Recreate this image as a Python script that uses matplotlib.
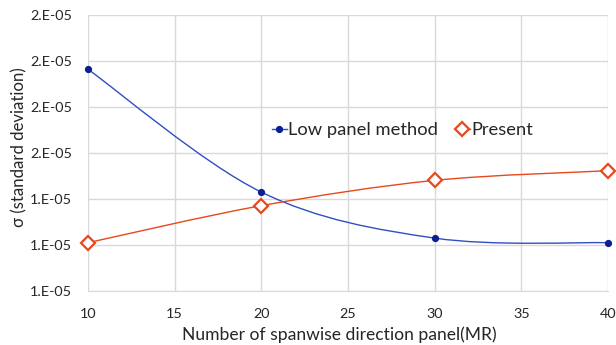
import matplotlib
matplotlib.use("Agg")
import matplotlib.pyplot as plt
from matplotlib.path import Path
from matplotlib.patches import PathPatch
from matplotlib.ticker import FuncFormatter, MultipleLocator
from matplotlib.font_manager import FontProperties
import numpy as np

plt.rcParams['font.family'] = ['Lato', 'DejaVu Sans']

panels = [10, 20, 30, 40]
low_panel = [1.964e-5, 1.430e-5, 1.230e-5, 1.210e-5]
present = [1.210e-5, 1.371e-5, 1.481e-5, 1.523e-5]
series_names = ["Low panel method", "Present"]
x_title = "Number of spanwise direction panel(MR)"
y_title = "σ (standard deviation)"

fig = plt.figure(figsize=(6.16, 3.45), dpi=100)
ax = fig.add_axes([88/616, 1-291/345, 520/616, 276/345])
renderer = fig.canvas.get_renderer()


def fit_size(text, target_px, base=12.0):
    fp = FontProperties(family=['Lato', 'DejaVu Sans'], size=base)
    w, h, d = renderer.get_text_width_height_descent(text, fp, ismath=False)
    return base * target_px / w


def smooth_path(xs, ys):
    pts = np.column_stack([xs, ys]).astype(float)
    n = len(pts)
    verts = [pts[0]]
    codes = [Path.MOVETO]
    for i in range(n - 1):
        p0 = pts[max(i - 1, 0)]
        p1 = pts[i]
        p2 = pts[i + 1]
        p3 = pts[min(i + 2, n - 1)]
        c1 = p1 + (p2 - p0) / 6.0
        c2 = p2 - (p3 - p1) / 6.0
        verts += [c1, c2, p2]
        codes += [Path.CURVE4] * 3
    return Path(verts, codes)


blue_line = '#2f4fc4'
blue_mark = '#0a1f96'
orange = '#e8481c'
text_col = '#262626'

ax.add_patch(PathPatch(smooth_path(panels, low_panel), fill=False,
                       edgecolor=blue_line, lw=1.0, zorder=3))
ax.add_patch(PathPatch(smooth_path(panels, present), fill=False,
                       edgecolor=orange, lw=1.0, zorder=3))
ax.plot(panels, low_panel, ls='none', marker='o', ms=4.2,
        color=blue_mark, zorder=4, clip_on=False)
ax.plot(panels, present, ls='none', marker='D', ms=7.2, mfc='white',
        mec=orange, mew=1.6, zorder=4, clip_on=False)

leg_fs = fit_size(series_names[0], 149)
h1, = ax.plot([], [], color=blue_line, lw=1.0, marker='o', ms=4.2,
              mfc=blue_mark, mec=blue_mark)
h2, = ax.plot([], [], color=orange, lw=1.0, marker='D', ms=7.2,
              mfc='white', mec=orange, mew=1.6)
leg = ax.legend([h1, h2], series_names, loc='center left',
                bbox_to_anchor=((272-88)/520, (291-130)/276),
                ncol=2, frameon=False, fontsize=leg_fs, handlelength=0.8,
                handletextpad=0.1, columnspacing=0.9, borderpad=0,
                borderaxespad=0)
for t in leg.get_texts():
    t.set_color(text_col)

ax.set_xlim(10, 40)
ax.set_ylim(1.0e-5, 2.2e-5)
ax.xaxis.set_major_locator(MultipleLocator(5))
ax.yaxis.set_major_locator(MultipleLocator(0.2e-5))


def efmt(v, pos):
    s = format(v, '.0E')
    mant, exp = s.split('E')
    return f"{mant}.E{exp}"


tick_fs = fit_size("2.E-05", 42)
ax.yaxis.set_major_formatter(FuncFormatter(efmt))
ax.grid(True, color='#d9d9d9', lw=1.0)
ax.set_axisbelow(True)
for sp in ['top', 'right', 'left']:
    ax.spines[sp].set_visible(False)
ax.spines['bottom'].set_color('#d9d9d9')
ax.tick_params(length=0, labelsize=tick_fs, colors='#404040',
               labelcolor=text_col)
ax.tick_params(axis='x', pad=12.5)
ax.tick_params(axis='y', pad=11.5)

xl_fs = fit_size(x_title, 312)
ax.set_xlabel(x_title, fontsize=xl_fs, color=text_col, va='center')
ax.xaxis.set_label_coords((339-88)/520, (291-335)/276)
yl_fs = fit_size(y_title, 159)
ax.set_ylabel(y_title, fontsize=yl_fs, color=text_col, va='center')
ax.yaxis.set_label_coords((19-88)/520, (291-147.5)/276)

fig.savefig("out.png", dpi=100)
